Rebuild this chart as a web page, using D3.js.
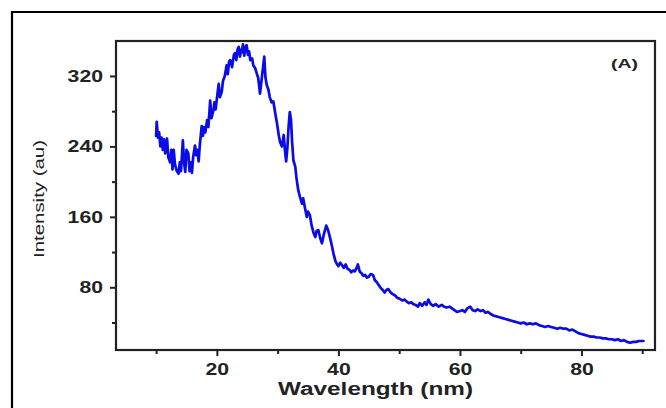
<!DOCTYPE html>
<html>
<head>
<meta charset="utf-8">
<script src="https://cdn.jsdelivr.net/npm/d3@7"></script>
<style>
  body { margin: 0; background: #fff; }
  svg { display: block; font-family: "Liberation Sans", Arial, sans-serif; }
  .axis path, .axis line { stroke: #222; }
  .axis text { font-weight: bold; fill: #222; }
</style>
</head>
<body>
<div id="chart"></div>
<script>
// wavelength (nm) and intensity (au)
const wavelength = [
  10.0, 10.1, 10.3, 10.5, 10.7, 10.9, 11.1, 11.3, 11.5, 11.8, 12.0, 12.3, 12.5, 12.7, 12.9, 13.1, 13.4, 13.7, 13.9, 14.1,
  14.4, 14.6, 14.8, 15.0, 15.3, 15.5, 15.7, 15.9, 16.1, 16.4, 16.6, 16.8, 17.0, 17.2, 17.5, 17.7, 17.9, 18.1, 18.4, 18.6,
  18.9, 19.1, 19.4, 19.6, 19.8, 20.1, 20.3, 20.5, 20.8, 21.0, 21.3, 21.6, 21.8, 22.0, 22.2, 22.5, 22.8, 23.0, 23.2, 23.4,
  23.6, 23.8, 24.0, 24.1, 24.3, 24.5, 24.7, 24.9, 25.1, 25.3, 25.5, 25.8, 26.0, 26.3, 26.6, 26.8, 27.1, 27.4, 27.6, 27.8,
  28.0, 28.2, 28.5, 28.7, 29.0, 29.3, 29.6, 29.9, 30.2, 30.4, 30.7, 31.0, 31.2, 31.4, 31.6, 31.8, 32.0, 32.2, 32.4, 32.6,
  32.9, 33.1, 33.4, 33.7, 34.0, 34.2, 34.5, 34.8, 35.0, 35.3, 35.6, 35.9, 36.2, 36.4, 36.7, 37.0, 37.3, 37.6, 38.0, 38.3,
  38.6, 38.9, 39.2, 39.5, 39.7, 40.0, 40.3, 40.6, 40.9, 41.2, 41.5, 41.8, 42.1, 42.4, 42.7, 43.0, 43.2, 43.5, 43.8, 44.1,
  44.4, 44.7, 45.0, 45.3, 45.7, 46.0, 46.3, 46.6, 47.0, 47.3, 47.6, 47.9, 48.2, 48.6, 49.0, 49.3, 49.7, 50.1, 50.5, 50.9,
  51.2, 51.6, 52.0, 52.3, 52.7, 53.1, 53.4, 53.8, 54.2, 54.5, 54.8, 55.2, 55.6, 56.0, 56.5, 57.0, 57.4, 57.8, 58.3, 58.7,
  59.1, 59.5, 60.0, 60.4, 60.8, 61.2, 61.7, 62.1, 62.5, 62.9, 63.4, 63.8, 64.2, 64.6, 65.0, 65.5, 66.0, 66.5, 67.0, 67.5,
  68.0, 68.5, 69.0, 69.5, 70.0, 70.5, 71.0, 71.5, 72.0, 72.5, 73.0, 73.5, 74.0, 74.5, 75.0, 75.5, 76.0, 76.5, 77.0, 77.5,
  78.0, 78.5, 79.0, 79.5, 80.0, 80.5, 81.0, 81.5, 82.0, 82.5, 83.0, 83.5, 84.0, 84.5, 85.0, 85.5, 86.0, 86.5, 87.0, 87.5,
  88.0, 88.5, 89.0, 89.5, 90.2
];
const intensity = [
  252, 268, 250, 256, 240, 250, 236, 248, 232, 249, 228, 222, 236, 214, 236, 220, 212, 209, 222, 212,
  247, 222, 211, 236, 232, 212, 222, 210, 228, 241, 230, 236, 223, 242, 263, 252, 262, 256, 270, 262,
  292, 272, 280, 290, 282, 300, 311, 296, 302, 314, 320, 332, 322, 336, 338, 330, 344, 346, 338, 350,
  353, 342, 350, 347, 356, 343, 352, 355, 344, 348, 338, 340, 332, 329, 322, 318, 300, 318, 330, 342,
  318, 310, 304, 296, 290, 291, 278, 266, 252, 245, 240, 253, 236, 223, 238, 262, 279, 270, 243, 224,
  217, 204, 190, 182, 175, 181, 170, 160, 166, 162, 150, 142, 137, 144, 145, 136, 130, 140, 150, 145,
  137, 128, 118, 110, 107, 104, 108, 105, 102, 106, 101, 100, 97, 99, 98, 102, 106, 98, 96, 93,
  94, 91, 92, 95, 94, 88, 86, 83, 79, 77, 74, 77, 78, 74, 72, 71, 68, 67, 65, 66,
  64, 62, 63, 61, 60, 58, 62, 59, 63, 60, 66, 61, 59, 61, 58, 60, 58, 57, 58, 56,
  54, 52, 53, 54, 52, 56, 58, 54, 53, 55, 53, 54, 51, 52, 50, 48, 47, 46, 45, 44,
  43, 42, 41, 40, 39, 40, 38, 39, 38, 39, 37, 36, 35, 36, 35, 34, 33, 34, 33, 33,
  31, 32, 30, 28, 27, 26, 25, 24, 24, 23, 23, 22, 22, 21, 21, 20, 21, 19, 20, 18,
  17, 18, 18, 19, 19
];
const xMajorTicks = [20, 40, 60, 80];
const xMinorTicks = [10, 30, 50, 70, 90];
const yMajorTicks = [80, 160, 240, 320];
const yMinorTicks = [40, 120, 200, 280];

const data = wavelength.map((w, i) => ({ name: w, value: intensity[i] }));

const W = 666, H = 408;
const margin = { top: 41, right: 11, bottom: 58, left: 116 };
const width = W - margin.left - margin.right;
const height = H - margin.top - margin.bottom;

const svg = d3.select('#chart')
  .append('svg')
  .attr('width', W)
  .attr('height', H);

// outer frame (only top and left edges fall inside the picture)
svg.append('path')
  .attr('d', `M12,${H} V12 H${W}`)
  .attr('fill', 'none')
  .attr('stroke', '#000')
  .attr('stroke-width', 2.2);

const g = svg.append('g')
  .attr('transform', `translate(${margin.left},${margin.top})`);

const x = d3.scaleLinear().domain([3.4, 92.1]).range([0, width]);
const y = d3.scaleLinear().domain([8.8, 359.7]).range([height, 0]);

// minor ticks
g.append('g')
  .attr('class', 'axis')
  .attr('transform', `translate(0,${height})`)
  .call(d3.axisBottom(x).tickValues(xMinorTicks).tickSize(4).tickFormat(''))
  .call(a => a.select('.domain').remove())
  .selectAll('line').attr('stroke-width', 2);
g.append('g')
  .attr('class', 'axis')
  .call(d3.axisLeft(y).tickValues(yMinorTicks).tickSize(4).tickFormat(''))
  .call(a => a.select('.domain').remove())
  .selectAll('line').attr('stroke-width', 2);

// major ticks + labels
const xAxis = g.append('g')
  .attr('class', 'axis')
  .attr('transform', `translate(0,${height})`)
  .call(d3.axisBottom(x).tickValues(xMajorTicks).tickSize(6).tickPadding(7).tickSizeOuter(0));
xAxis.select('.domain').remove();
xAxis.selectAll('line').attr('stroke-width', 2);
xAxis.selectAll('text')
  .attr('font-size', 16.5)
  .attr('textLength', d => String(d).length * 11.8)
  .attr('lengthAdjust', 'spacingAndGlyphs');

const yAxis = g.append('g')
  .attr('class', 'axis')
  .call(d3.axisLeft(y).tickValues(yMajorTicks).tickSize(6).tickPadding(7).tickSizeOuter(0));
yAxis.select('.domain').remove();
yAxis.selectAll('line').attr('stroke-width', 2);
yAxis.selectAll('text')
  .attr('font-size', 17)
  .attr('textLength', d => String(d).length * 11.8)
  .attr('lengthAdjust', 'spacingAndGlyphs');

// spectrum
const line = d3.line().x(d => x(d.name)).y(d => y(d.value));
g.append('path')
  .datum(data)
  .attr('fill', 'none')
  .attr('stroke', '#0b0be6')
  .attr('stroke-width', 2.7)
  .attr('stroke-linejoin', 'round')
  .attr('stroke-linecap', 'round')
  .attr('d', line);

// plot box
g.append('rect')
  .attr('width', width)
  .attr('height', height)
  .attr('fill', 'none')
  .attr('stroke', '#222')
  .attr('stroke-width', 2.2);

// labels
svg.append('text')
  .attr('x', 278)
  .attr('y', 395)
  .attr('font-size', 18)
  .attr('font-weight', 'bold')
  .attr('fill', '#222')
  .attr('textLength', 195)
  .attr('lengthAdjust', 'spacingAndGlyphs')
  .text('Wavelength (nm)');

svg.append('text')
  .attr('transform', 'translate(44,258) rotate(-90)')
  .attr('font-size', 15.5)
  .attr('fill', '#222')
  .attr('textLength', 118)
  .attr('lengthAdjust', 'spacingAndGlyphs')
  .text('Intensity (au)');

svg.append('text')
  .attr('x', 611)
  .attr('y', 68)
  .attr('font-size', 13.5)
  .attr('font-weight', 'bold')
  .attr('fill', '#222')
  .attr('textLength', 27)
  .attr('lengthAdjust', 'spacingAndGlyphs')
  .text('(A)');
</script>
</body>
</html>
